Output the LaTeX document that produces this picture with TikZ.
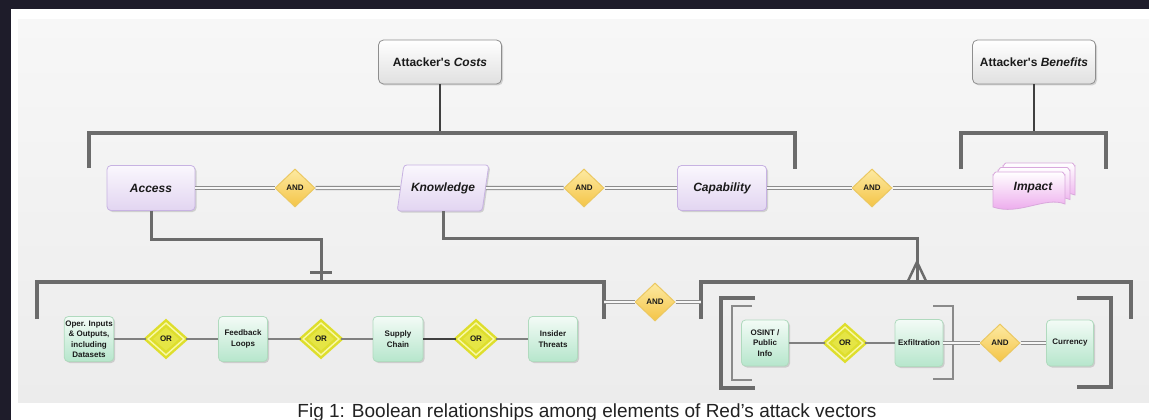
\documentclass[tikz,border=0pt]{standalone}
\usepackage{fontspec}
\setmainfont{Liberation Sans}
\usetikzlibrary{shapes.geometric,shadows}
\definecolor{frameC}{HTML}{1E1C2A}
\definecolor{panelTop}{HTML}{F7F7F7}
\definecolor{panelBot}{HTML}{ECECEC}
\definecolor{brC}{HTML}{6B6B6B}
\definecolor{thinBrC}{HTML}{8A8A8A}
\definecolor{topBoxB}{HTML}{8E8E8E}
\definecolor{topBoxF}{HTML}{E0E0E0}
\definecolor{purB}{HTML}{C7B2E2}
\definecolor{purT}{HTML}{FAF7FD}
\definecolor{purF}{HTML}{E2D5F1}
\definecolor{pinkB}{HTML}{D9A8DC}
\definecolor{pinkF}{HTML}{EA9EEA}
\definecolor{grnB}{HTML}{B0DABE}
\definecolor{grnT}{HTML}{F3FBF6}
\definecolor{grnF}{HTML}{B6E6CC}
\definecolor{andB}{HTML}{EBC862}
\definecolor{andT}{HTML}{FDEAA2}
\definecolor{andF}{HTML}{F4C447}
\definecolor{orB}{HTML}{DEDE2C}
\definecolor{orS}{HTML}{F9F9A8}
\definecolor{orF}{HTML}{E5E545}
\definecolor{conC}{HTML}{8C8C8C}
\definecolor{sglC}{HTML}{808080}
\definecolor{darkC}{HTML}{404040}
\definecolor{txtC}{HTML}{1A1A1A}
\definecolor{capC}{HTML}{222222}
\begin{document}
\begin{tikzpicture}[x=1pt,y=-1pt,
  shad/.style={drop shadow={shadow xshift=1.5pt,shadow yshift=-1.5pt,opacity=0.3}},
  topbox/.style={rectangle,rounded corners=5pt,draw=topBoxB,line width=0.8pt,
    top color=white,bottom color=topBoxF,minimum width=123pt,minimum height=44pt,
    font=\bfseries\fontsize{12}{14}\selectfont,text=txtC,shad},
  purbox/.style={rectangle,rounded corners=4pt,draw=purB,line width=0.8pt,
    top color=purT,bottom color=purF,minimum width=88pt,minimum height=45pt,
    font=\bfseries\itshape\fontsize{12}{14}\selectfont,text=txtC,shad},
  grnbox/.style={rectangle,rounded corners=4pt,draw=grnB,line width=0.8pt,
    top color=grnT,bottom color=grnF,minimum width=48pt,minimum height=45pt,
    font=\bfseries\fontsize{8}{10.5}\selectfont,align=center,inner sep=1pt,text=txtC,shad},
  anddia/.style={diamond,draw=andB,line width=1pt,top color=andT,bottom color=andF,
    minimum width=40pt,minimum height=38pt,inner sep=0pt,
    font=\bfseries\fontsize{8}{9}\selectfont,text=txtC},
  ordia/.style={diamond,draw=orB,line width=2.5pt,double=orS,double distance=1.4pt,
    fill=orF,minimum width=37pt,minimum height=33pt,inner sep=0pt,
    font=\bfseries\fontsize{8}{9}\selectfont,text=txtC},
  dbl/.style={draw=conC,line width=1.1pt,double=panelTop,double distance=2pt},
  sgl/.style={draw=sglC,line width=1.3pt},
  bracket/.style={draw=brC,line width=4pt},
  thinbracket/.style={draw=thinBrC,line width=2pt},
  drop/.style={draw=brC,line width=3pt},
  stem/.style={draw=darkC,line width=1.5pt},
  page/.style={draw=pinkB,line width=0.8pt,top color=white,bottom color=pinkF}
]
\useasboundingbox (0,0) rectangle (1149,420);
% background
\fill[white] (0,0) rectangle (1149,420);
\fill[frameC] (0,0) rectangle (1149,9);
\fill[frameC] (0,0) rectangle (11,420);
\shade[top color=panelTop,bottom color=panelBot] (18,20) rectangle (1149,402);

% top boxes
\node[topbox] (costs) at (440,62) {Attacker\textquotesingle s \textit{Costs}};
\node[topbox] (benefits) at (1034,62) {Attacker\textquotesingle s \textit{Benefits}};

% top brackets
\draw[bracket] (89,168) -- (89,133) -- (795,133) -- (795,169);
\draw[bracket] (961,169) -- (961,133) -- (1106,133) -- (1106,169);
\coordinate (costsjoin) at (440,131);
\coordinate (benjoin) at (1034,131);
\draw[stem] (costs.south) -- (costsjoin);
\draw[stem] (benefits.south) -- (benjoin);

% middle row
\node[purbox] (access) at (151,188) {Access};
\node[anddia] (and1) at (295,188) {AND};
\node[trapezium,trapezium left angle=64,trapezium right angle=116,trapezium stretches=true,
  rounded corners=3pt,draw=purB,line width=0.8pt,top color=purT,bottom color=purF,
  minimum width=92pt,minimum height=46pt,inner sep=0pt,
  font=\bfseries\itshape\fontsize{12}{14}\selectfont,text=txtC,shad] (knowledge) at (443,188) {Knowledge};
\node[anddia] (and2) at (584,188) {AND};
\node[purbox,minimum width=89pt] (capability) at (722,188) {Capability};
\node[anddia] (and3) at (872,188) {AND};

% impact stack
\foreach \px/\py in {1003/163,998/167.5,993/172}{
  \begin{scope}[shift={(\px,\py)}]
    \draw[page] (0,35) -- (0,3) to[out=-90,in=180] (3,0) -- (69,0) to[out=0,in=-90] (72,3)
      -- (72,32) .. controls (52,24) and (26,44) .. (0,35) -- cycle;
  \end{scope}
}
\node[minimum width=80pt,minimum height=36pt,inner sep=0pt,
  font=\bfseries\itshape\fontsize{12}{14}\selectfont,text=txtC] (impact) at (1033,188) {Impact};

% middle connectors
\draw[dbl] (access.east) -- (and1.west);
\draw[dbl] (and1.east) -- (knowledge.west);
\draw[dbl] (knowledge.east) -- (and2.west);
\draw[dbl] (and2.east) -- (capability.west);
\draw[dbl] (capability.east) -- (and3.west);
\draw[dbl] (and3.east) -- (impact.west);

% bottom brackets
\draw[bracket] (37,319) -- (37,282) -- (604,282) -- (604,319);
\draw[bracket] (701,319) -- (701,282) -- (1131,282) -- (1131,319);
\coordinate (leftjoin) at (321,282);
\coordinate (rightjoin) at (917,282);
\draw[drop] (access.south) |- (321,239) -- (leftjoin);
\draw[drop] (310,272) -- (332,272);
\draw[drop] (knowledge.south) |- (917,238) -- (rightjoin);
\draw[drop,line width=2.5pt] (917,262) -- (907.5,282);
\draw[drop,line width=2.5pt] (917,262) -- (926.5,282);

% middle AND between brackets
\node[anddia] (and4) at (655,302) {AND};
\coordinate (blR) at (604,302);
\coordinate (brL) at (701,302);
\draw[dbl] (blR) -- (and4.west);
\draw[dbl] (and4.east) -- (brL);

% bottom-left row
\node[grnbox] (oper) at (89,339) {Oper. Inputs\\\& Outputs,\\including\\Datasets};
\node[ordia] (or1) at (166,339) {OR};
\node[grnbox,minimum width=49pt] (feedback) at (243,339) {Feedback\\Loops};
\node[ordia] (or2) at (321,339) {OR};
\node[grnbox,minimum width=50pt] (supply) at (398,339) {Supply\\Chain};
\node[ordia] (or3) at (476,339) {OR};
\node[grnbox,minimum width=49pt] (insider) at (553,339) {Insider\\Threats};
\draw[sgl] (oper.east) -- (or1.west);
\draw[sgl] (or1.east) -- (feedback.west);
\draw[sgl] (feedback.east) -- (or2.west);
\draw[sgl] (or2.east) -- (supply.west);
\draw[sgl,draw=darkC,line width=1.8pt] (supply.east) -- (or3.west);
\draw[sgl] (or3.east) -- (insider.west);

% bottom-right inner brackets
\draw[bracket] (755,298) -- (721,298) -- (721,388) -- (755,388);
\draw[thinbracket] (752,306) -- (732,306) -- (732,380) -- (752,380);
\draw[thinbracket] (933,306) -- (953,306) -- (953,379) -- (933,379);
\draw[bracket] (1077,298) -- (1111,298) -- (1111,387) -- (1077,387);

% bottom-right row
\node[grnbox,minimum width=47pt,minimum height=46pt] (osint) at (765,343) {OSINT /\\Public\\Info};
\node[ordia] (or4) at (845,343) {OR};
\node[grnbox,minimum width=48pt,minimum height=47pt] (exfil) at (919,343) {Exfiltration};
\node[anddia] (and5) at (1000,343) {AND};
\node[grnbox,minimum width=47pt,minimum height=46pt] (currency) at (1070,343) {Currency};
\draw[sgl] (osint.east) -- (or4.west);
\draw[sgl] (or4.east) -- (exfil.west);
\draw[dbl] (exfil.east) -- (and5.west);
\draw[dbl] (and5.east) -- (currency.west);

% caption
\node[anchor=base,inner sep=0pt,text=capC,font=\fontsize{19}{22}\selectfont] (caption) at (587,417)
  {Fig 1: Boolean relationships among elements of Red’s attack vectors};
\end{tikzpicture}
\end{document}
